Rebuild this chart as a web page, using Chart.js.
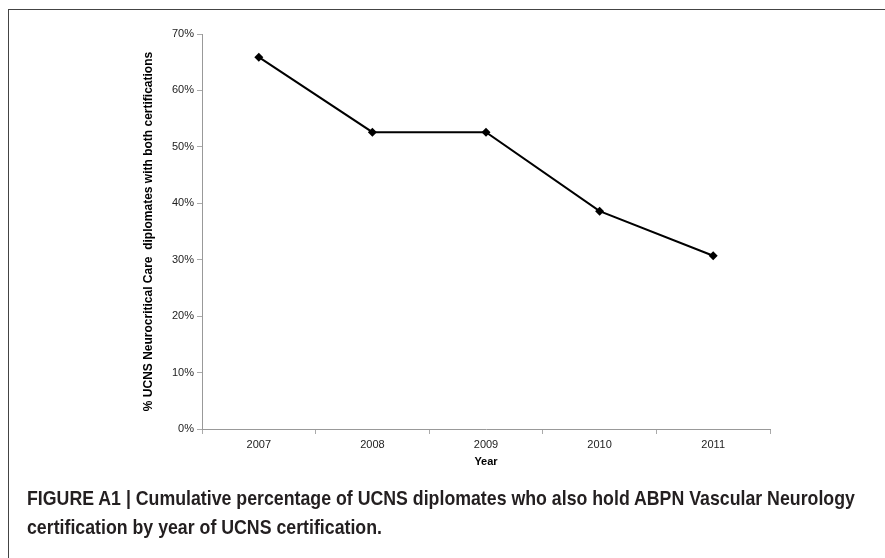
<!DOCTYPE html>
<html>
<head>
<meta charset="utf-8">
<script src="https://cdn.jsdelivr.net/npm/chart.js@4"></script>
<style>
  html, body { margin: 0; padding: 0; background: #fff; }
  #wrap { position: relative; width: 885px; height: 558px; overflow: hidden; }
  #frame {
    position: absolute; left: 8px; top: 9px; width: 900px; height: 600px;
    border-top: 1px solid #444; border-left: 1px solid #444;
  }
  #chart { position: absolute; left: 0; top: 0; }
  #caption {
    position: absolute; left: 27px; top: 483px;
    font-family: "Liberation Sans", Arial, sans-serif;
    font-weight: bold; font-size: 21px; line-height: 29px; color: #231f20;
    white-space: nowrap; transform-origin: 0 0;
  }
</style>
</head>
<body>
<div id="wrap">
  <div id="frame"></div>
  <canvas id="chart" width="885" height="558"></canvas>
  <div id="caption">FIGURE A1 | Cumulative percentage of UCNS diplomates who also hold ABPN Vascular Neurology<br>certification by year of UCNS certification.</div>
</div>
<script>
// values
const years = ['2007', '2008', '2009', '2010', '2011'];
const pctBoth = [65.9, 52.6, 52.6, 38.6, 30.7];
const yMin = 0;
const yMax = 70;
const yStep = 10;

const yTitle = '% UCNS Neurocritical Care  diplomates with both certifications';
const xTitle = 'Year';

const axisFont = { family: '"Liberation Sans", Arial, sans-serif', size: 11 };
const titleFont = { family: '"Liberation Sans", Arial, sans-serif', size: 11, weight: 'bold' };
const yTitleFont = { family: '"Liberation Sans", Arial, sans-serif', size: 12, weight: 'bold' };

// squeeze the caption to the condensed width of the original typeface
const caption = document.getElementById('caption');
const captionWidth = 828;
caption.style.transform = 'scaleX(' + (captionWidth / caption.scrollWidth) + ')';

const ctx = document.getElementById('chart').getContext('2d');

new Chart(ctx, {
    type: 'line',
    data: {
        labels: years,
        datasets: [{
            label: 'Both certifications',
            data: pctBoth,
            borderColor: '#000',
            backgroundColor: '#000',
            borderWidth: 2,
            tension: 0,
            fill: false,
            pointStyle: 'rectRot',
            pointRadius: 4.5,
            pointHoverRadius: 4.5,
            pointBackgroundColor: '#000',
            pointBorderColor: '#000',
            pointBorderWidth: 0
        }]
    },
    options: {
        responsive: false,
        animation: false,
        layout: {
            padding: { left: 140, right: 115, top: 34, bottom: 89 }
        },
        plugins: {
            legend: { display: false },
            tooltip: { enabled: false }
        },
        scales: {
            x: {
                offset: true,
                grid: {
                    offset: true,
                    drawOnChartArea: false,
                    drawTicks: true,
                    tickLength: 5,
                    color: '#aaa'
                },
                border: { color: '#999', width: 1 },
                ticks: { color: '#222', font: axisFont, padding: 4, maxRotation: 0 },
                title: {
                    display: true,
                    text: xTitle,
                    color: '#000',
                    font: titleFont,
                    padding: { top: 2, bottom: 0 }
                },
                afterFit: function(scale) {
                    scale.height = 40;
                }
            },
            y: {
                min: yMin,
                max: yMax,
                grid: {
                    drawOnChartArea: false,
                    drawTicks: true,
                    tickLength: 5,
                    color: '#aaa'
                },
                border: { color: '#999', width: 1 },
                ticks: {
                    stepSize: yStep,
                    color: '#222',
                    font: axisFont,
                    padding: 3,
                    callback: function(value) {
                        return value + '%';
                    }
                },
                title: {
                    display: true,
                    text: yTitle,
                    color: '#000',
                    font: yTitleFont,
                    padding: { top: 1, bottom: 0 }
                },
                afterFit: function(scale) {
                    scale.width = 62;
                }
            }
        }
    }
});
</script>
</body>
</html>
